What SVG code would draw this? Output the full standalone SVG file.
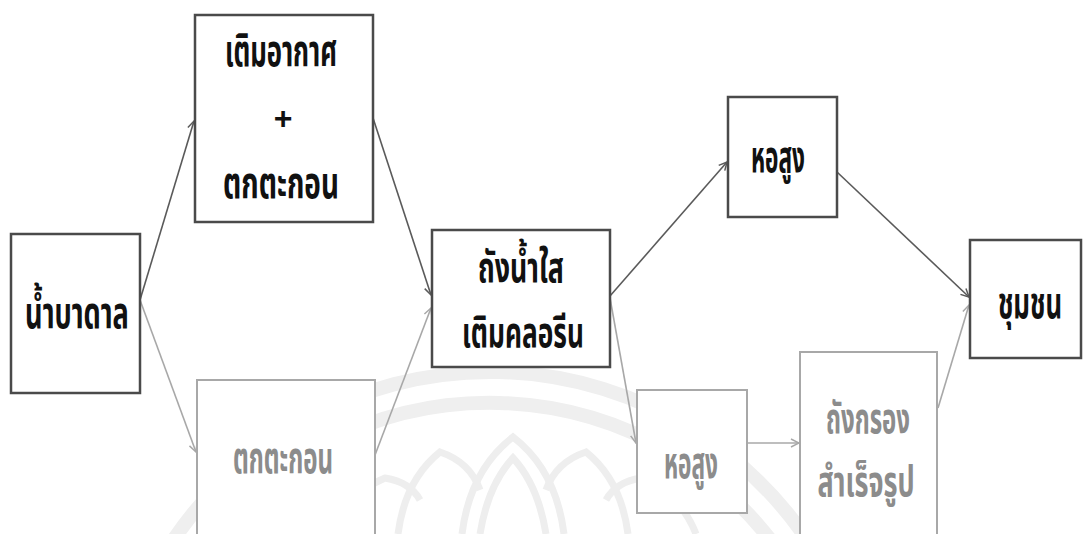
<svg xmlns="http://www.w3.org/2000/svg" width="1083" height="534" viewBox="0 0 1083 534">
<style>
.bg{fill:#ffffff}
.wm{fill:none;stroke:#eeeeee;stroke-width:7}
.wmb{fill:none;stroke:#efefef;stroke-width:14}
.box{fill:#ffffff;stroke:#4a4a4a;stroke-width:2.5}
.boxl{fill:#ffffff;stroke:#a8a8a8;stroke-width:2}
.t,.tl{font-family:"Norasi","Kinnari","Noto Sans Thai","Noto Sans","DejaVu Sans",sans-serif;font-weight:bold;font-size:44px;text-anchor:middle}
.t{fill:#111111}
.tl{fill:#8c8c8c}
.s{font-size:42px}
.plus{font-family:"Liberation Sans",sans-serif;font-weight:bold;font-size:32px;fill:#111111;text-anchor:middle}
.c{fill:none;stroke:#5a5a5a;stroke-width:1.6}
.cl{fill:none;stroke:#a8a8a8;stroke-width:1.6}
</style>
<defs>
<marker id="ah" markerWidth="10" markerHeight="10" refX="9" refY="5" orient="auto" markerUnits="userSpaceOnUse">
<path d="M1,1 L9,5 L1,9" fill="none" stroke="#5a5a5a" stroke-width="1.5"/>
</marker>
<marker id="ahl" markerWidth="10" markerHeight="10" refX="9" refY="5" orient="auto" markerUnits="userSpaceOnUse">
<path d="M1,1 L9,5 L1,9" fill="none" stroke="#a8a8a8" stroke-width="1.5"/>
</marker>
</defs>
<rect class="bg" x="0" y="0" width="1083" height="534"/>
<g id="watermark">
<path class="wmb" d="M170,545 A383,383 0 0 1 820,560"/>
<path class="wmb" d="M205,545 A356,356 0 0 1 785,560"/>
<path class="wm" d="M462,534 Q470,470 513,437 Q556,470 564,534"/>
<path class="wm" d="M480,534 Q488,485 513,458 Q538,485 546,534"/>
<path class="wm" d="M398,534 Q405,480 440,452 Q470,462 480,490"/>
<path class="wm" d="M628,534 Q621,480 586,452 Q556,462 546,490"/>
<path class="wm" d="M330,534 Q345,495 385,478 Q410,482 420,500"/>
<path class="wm" d="M696,534 Q681,495 641,478 Q616,482 606,500"/>
</g>
<g id="connectors">
<line class="c" x1="140" y1="300" x2="194" y2="121" marker-end="url(#ah)"/>
<line class="cl" x1="140" y1="300" x2="196" y2="452" marker-end="url(#ahl)"/>
<line class="c" x1="373" y1="118" x2="431" y2="295" marker-end="url(#ah)"/>
<line class="cl" x1="375" y1="455" x2="431" y2="308" marker-end="url(#ahl)"/>
<line class="c" x1="610" y1="296" x2="727" y2="162" marker-end="url(#ah)"/>
<line class="cl" x1="610" y1="298" x2="636" y2="443" marker-end="url(#ahl)"/>
<line class="cl" x1="747" y1="443" x2="799" y2="443" marker-end="url(#ahl)"/>
<line class="c" x1="837" y1="172" x2="969" y2="297" marker-end="url(#ah)"/>
<line class="cl" x1="938" y1="408" x2="969" y2="305" marker-end="url(#ahl)"/>
</g>
<g id="n1">
<rect class="box" x="11" y="234" width="129" height="159"/>
<text class="t" transform="translate(77,328) scale(0.6,1)" textLength="173" lengthAdjust="spacingAndGlyphs">น้ำบาดาล</text>
</g>
<g id="n2">
<rect class="box" x="195" y="15" width="178" height="207"/>
<text class="t" transform="translate(281,66) scale(0.6,1)" textLength="187" lengthAdjust="spacingAndGlyphs">เติมอากาศ</text>
<text class="plus" x="283" y="129">+</text>
<text class="t" transform="translate(281,198) scale(0.6,1)" textLength="193" lengthAdjust="spacingAndGlyphs">ตกตะกอน</text>
</g>
<g id="n3">
<rect class="boxl" x="197" y="380" width="178" height="170"/>
<text class="tl" transform="translate(283,473) scale(0.6,1)" textLength="167" lengthAdjust="spacingAndGlyphs">ตกตะกอน</text>
</g>
<g id="n4">
<rect class="box" x="432" y="230" width="178" height="137"/>
<text class="t s" transform="translate(521,282) scale(0.6,1)" textLength="143" lengthAdjust="spacingAndGlyphs">ถังน้ำใส</text>
<text class="t s" transform="translate(523,347) scale(0.6,1)" textLength="203" lengthAdjust="spacingAndGlyphs">เติมคลอรีน</text>
</g>
<g id="n5">
<rect class="box" x="728" y="97" width="109" height="120"/>
<text class="t" transform="translate(778,172) scale(0.6,1)" textLength="90" lengthAdjust="spacingAndGlyphs">หอสูง</text>
</g>
<g id="n6">
<rect class="boxl" x="637" y="390" width="110" height="123"/>
<text class="tl" transform="translate(691,478) scale(0.6,1)" textLength="90" lengthAdjust="spacingAndGlyphs">หอสูง</text>
</g>
<g id="n7">
<rect class="boxl" x="800" y="352" width="137" height="195"/>
<text class="tl s" transform="translate(868,433) scale(0.6,1)" textLength="140" lengthAdjust="spacingAndGlyphs">ถังกรอง</text>
<text class="tl s" transform="translate(866,496) scale(0.6,1)" textLength="162" lengthAdjust="spacingAndGlyphs">สำเร็จรูป</text>
</g>
<g id="n8">
<rect class="box" x="970" y="240" width="111" height="118"/>
<text class="t" transform="translate(1030,318) scale(0.6,1)" textLength="107" lengthAdjust="spacingAndGlyphs">ชุมชน</text>
</g>
</svg>
